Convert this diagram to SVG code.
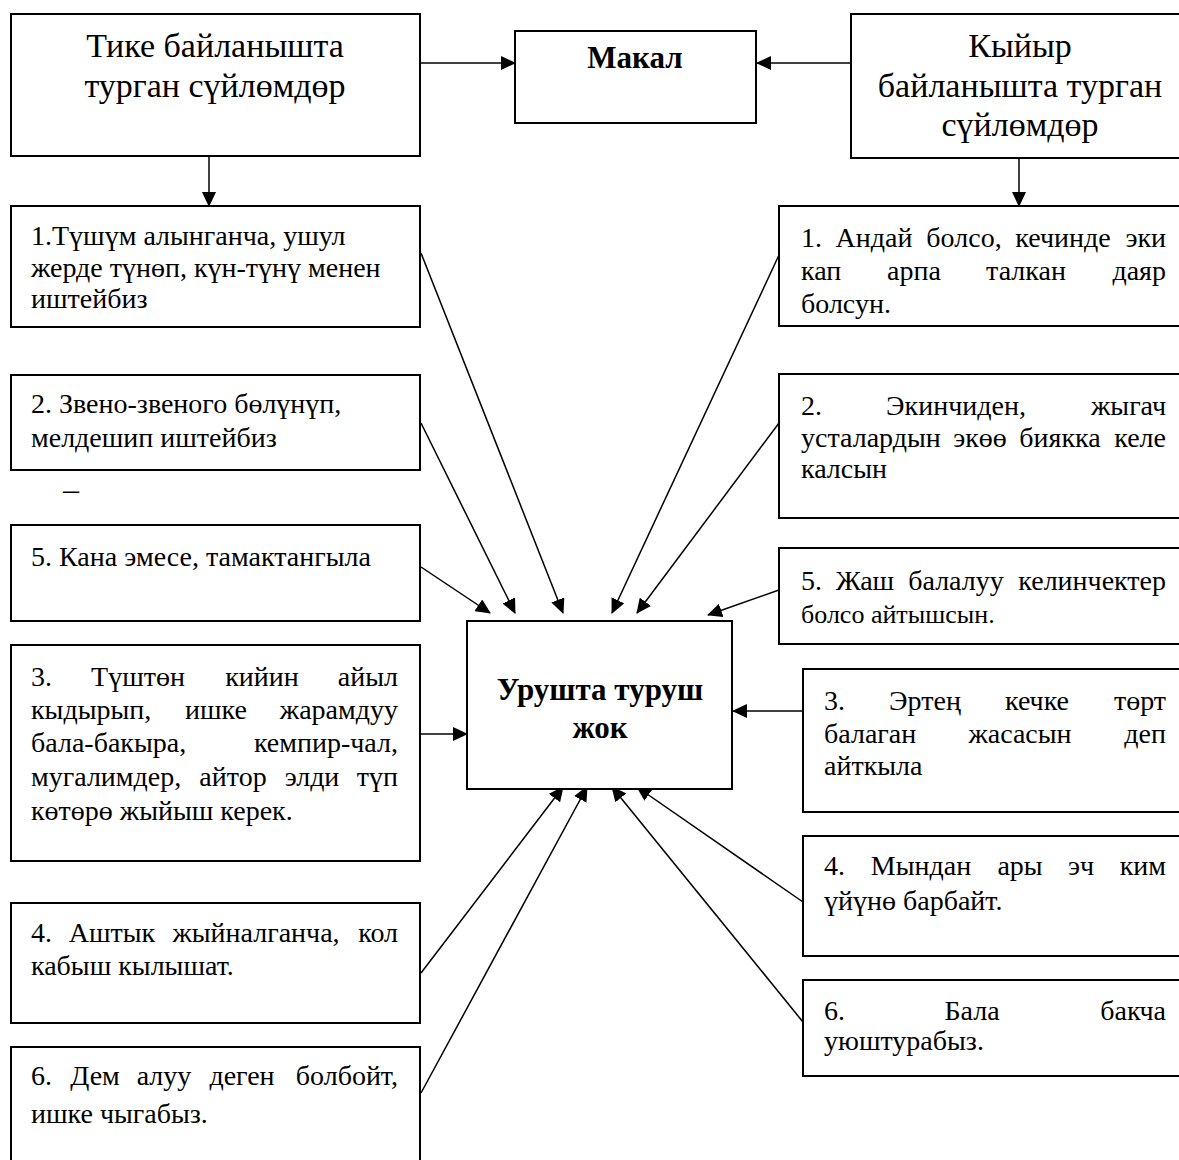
<svg xmlns="http://www.w3.org/2000/svg" width="1179" height="1160" viewBox="0 0 1179 1160">
<style>
.box{fill:#fff;stroke:#000;stroke-width:2}
.t{font-family:"Liberation Serif",serif;font-size:28px;fill:#000}
.h{font-family:"Liberation Serif",serif;font-size:34px;fill:#000;text-anchor:middle}
.b{font-family:"Liberation Serif",serif;font-size:31px;font-weight:bold;fill:#000;text-anchor:middle}
.m{text-anchor:middle}
.e{text-anchor:end}
.c{stroke:#000;stroke-width:1.5;fill:none;marker-end:url(#ah)}
</style>
<defs>
<marker id="ah" markerUnits="userSpaceOnUse" markerWidth="15" markerHeight="14" viewBox="0 0 15 14" refX="14" refY="7" orient="auto">
<path d="M0,0 L15,7 L0,14 z" fill="#000"/>
</marker>
</defs>
<rect width="1179" height="1160" fill="#fff"/>

<g id="connectors">
<line class="c" x1="421" y1="63" x2="515" y2="63"/>
<line class="c" x1="851" y1="63" x2="757" y2="63"/>
<line class="c" x1="209" y1="157" x2="209" y2="206"/>
<line class="c" x1="1019" y1="158" x2="1019" y2="206"/>
<line class="c" x1="421" y1="253" x2="563" y2="613"/>
<line class="c" x1="421" y1="423" x2="515" y2="613"/>
<line class="c" x1="421" y1="567" x2="490" y2="613"/>
<line class="c" x1="421" y1="734" x2="467" y2="734"/>
<line class="c" x1="421" y1="973" x2="563" y2="787"/>
<line class="c" x1="421" y1="1093" x2="587" y2="787"/>
<line class="c" x1="779" y1="255" x2="612" y2="613"/>
<line class="c" x1="779" y1="423" x2="637" y2="613"/>
<line class="c" x1="779" y1="590" x2="708" y2="615"/>
<line class="c" x1="803" y1="711" x2="733" y2="711"/>
<line class="c" x1="803" y1="902" x2="637" y2="787"/>
<line class="c" x1="803" y1="1022" x2="612" y2="787"/>
</g>

<g id="n-tike">
<rect class="box" x="11" y="14" width="409" height="142"/>
<text class="h" x="215" y="57">Тике байланышта</text>
<text class="h" x="215" y="97">турган сүйлөмдөр</text>
</g>

<g id="n-makal">
<rect class="box" x="515" y="31" width="241" height="92"/>
<text class="b" x="635" y="68">Макал</text>
</g>

<g id="n-kyiyr">
<rect class="box" x="851" y="14" width="360" height="144"/>
<text class="h" x="1020" y="57">Кыйыр</text>
<text class="h" x="1020" y="97">байланышта турган</text>
<text class="h" x="1020" y="136">сүйлөмдөр</text>
</g>

<g id="n-center">
<rect class="box" x="467" y="621" width="265" height="168"/>
<text class="b" x="600" y="700">Урушта туруш</text>
<text class="b" x="600" y="738">жок</text>
</g>

<g id="n-l1">
<rect class="box" x="11" y="206" width="409" height="121"/>
<text class="t" x="31" y="245">1.Түшүм алынганча, ушул</text>
<text class="t" x="31" y="277">жерде түнөп, күн-түнү менен</text>
<text class="t" x="31" y="308">иштейбиз</text>
</g>

<g id="n-l2">
<rect class="box" x="11" y="375" width="409" height="95"/>
<text class="t" x="31" y="413">2. Звено-звеного бөлүнүп,</text>
<text class="t" x="31" y="447">мелдешип иштейбиз</text>
</g>

<text x="63" y="500" font-family="Liberation Serif, serif" font-size="32">–</text>

<g id="n-l5">
<rect class="box" x="11" y="525" width="409" height="96"/>
<text class="t" x="31" y="566">5. Кана эмесе, тамактангыла</text>
</g>

<g id="n-l3">
<rect class="box" x="11" y="645" width="409" height="216"/>
<text class="t" y="686"><tspan x="31">3.</tspan><tspan class="m" x="138">Түштөн</tspan><tspan class="m" x="262">кийин</tspan><tspan class="e" x="398">айыл</tspan></text>
<text class="t" y="719"><tspan x="31">кыдырып,</tspan><tspan class="m" x="216">ишке</tspan><tspan class="e" x="398">жарамдуу</tspan></text>
<text class="t" y="752"><tspan x="31">бала-бакыра,</tspan><tspan class="e" x="398">кемпир-чал,</tspan></text>
<text class="t" y="786"><tspan x="31">мугалимдер,</tspan><tspan class="m" x="233">айтор</tspan><tspan class="m" x="312">элди</tspan><tspan class="e" x="398">түп</tspan></text>
<text class="t" x="31" y="820">көтөрө жыйыш керек.</text>
</g>

<g id="n-l4">
<rect class="box" x="11" y="903" width="409" height="120"/>
<text class="t" y="942"><tspan x="31">4.</tspan><tspan class="m" x="112">Аштык</tspan><tspan class="m" x="256">жыйналганча,</tspan><tspan class="e" x="398">кол</tspan></text>
<text class="t" x="31" y="975">кабыш кылышат.</text>
</g>

<g id="n-l6">
<rect class="box" x="11" y="1047" width="409" height="130"/>
<text class="t" y="1085"><tspan x="31">6.</tspan><tspan class="m" x="95">Дем</tspan><tspan class="m" x="164">алуу</tspan><tspan class="m" x="242">деген</tspan><tspan class="e" x="398">болбойт,</tspan></text>
<text class="t" x="31" y="1123">ишке чыгабыз.</text>
</g>

<g id="n-r1">
<rect class="box" x="779" y="206" width="420" height="120"/>
<text class="t" y="247"><tspan x="801">1.</tspan><tspan class="m" x="874">Андай</tspan><tspan class="m" x="964">болсо,</tspan><tspan class="m" x="1063">кечинде</tspan><tspan class="e" x="1166">эки</tspan></text>
<text class="t" y="280"><tspan x="801">кап</tspan><tspan class="m" x="914">арпа</tspan><tspan class="m" x="1026">талкан</tspan><tspan class="e" x="1166">даяр</tspan></text>
<text class="t" x="801" y="313">болсун.</text>
</g>

<g id="n-r2">
<rect class="box" x="779" y="374" width="420" height="144"/>
<text class="t" y="415"><tspan x="801">2.</tspan><tspan class="m" x="956">Экинчиден,</tspan><tspan class="e" x="1166">жыгач</tspan></text>
<text class="t" y="447"><tspan x="801">усталардын</tspan><tspan class="m" x="980">экөө</tspan><tspan class="m" x="1060">биякка</tspan><tspan class="e" x="1166">келе</tspan></text>
<text class="t" x="801" y="478">калсын</text>
</g>

<g id="n-r5">
<rect class="box" x="779" y="548" width="420" height="96"/>
<text class="t" y="590"><tspan x="801">5.</tspan><tspan class="m" x="865">Жаш</tspan><tspan class="m" x="956">балалуу</tspan><tspan class="e" x="1166">келинчектер</tspan></text>
<text x="801" y="623" font-family="Liberation Serif, serif" font-size="26">болсо айтышсын.</text>
</g>

<g id="n-r3">
<rect class="box" x="803" y="669" width="400" height="143"/>
<text class="t" y="710"><tspan x="824">3.</tspan><tspan class="m" x="925">Эртең</tspan><tspan class="m" x="1037">кечке</tspan><tspan class="e" x="1166">төрт</tspan></text>
<text class="t" y="743"><tspan x="824">балаган</tspan><tspan class="m" x="1020">жасасын</tspan><tspan class="e" x="1166">деп</tspan></text>
<text class="t" x="824" y="775">айткыла</text>
</g>

<g id="n-r4">
<rect class="box" x="803" y="836" width="400" height="120"/>
<text class="t" y="875"><tspan x="824">4.</tspan><tspan class="m" x="921">Мындан</tspan><tspan class="m" x="1020">ары</tspan><tspan class="m" x="1081">эч</tspan><tspan class="e" x="1166">ким</tspan></text>
<text class="t" x="824" y="910">үйүнө барбайт.</text>
</g>

<g id="n-r6">
<rect class="box" x="803" y="980" width="400" height="96"/>
<text class="t" y="1020"><tspan x="824">6.</tspan><tspan class="m" x="972">Бала</tspan><tspan class="e" x="1166">бакча</tspan></text>
<text class="t" x="824" y="1050">уюштурабыз.</text>
</g>
</svg>
